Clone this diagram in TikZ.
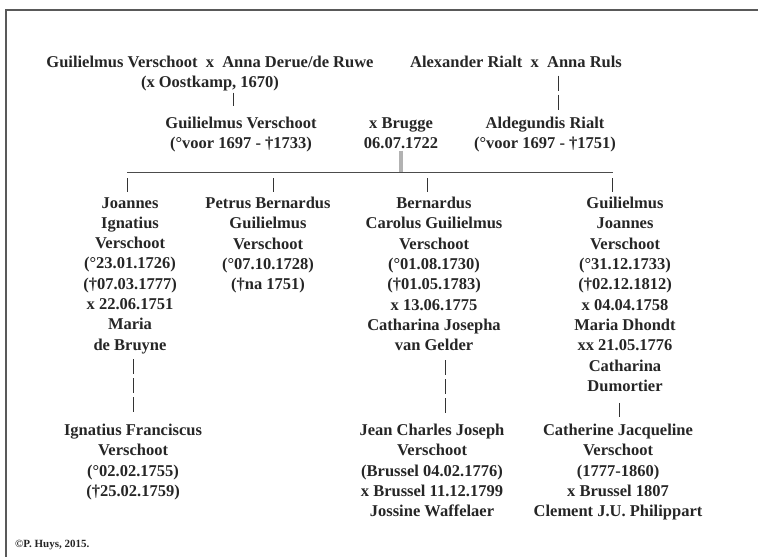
\documentclass[tikz,border=0pt]{standalone}
\usepackage{fontspec}
\setmainfont{Liberation Serif}
\begin{document}
\begin{tikzpicture}[x=1pt,y=-1pt]
\tikzset{
  person/.style={align=center, inner sep=0pt, anchor=north, text=black!85,
    font=\bfseries\fontsize{16.5}{20.3}\selectfont},
  bar/.style={line width=1pt, draw=black!80},
  dbar/.style={bar, dash pattern=on 15pt off 4pt},
  frame/.style={line width=1.2pt, draw=black!65},
  hline/.style={line width=1.5pt, draw=black!70},
  tick/.style={line width=4pt, draw=black!30}
}
\useasboundingbox (0,0) rectangle (758,557);
\draw[frame] (6,557) -- (6,10) -- (758,10);

% generation 1
\node[person] (tl) at (210,56) {Guilielmus Verschoot\ \ x\ \ Anna Derue/de Ruwe\\(x Oostkamp, 1670)};
\node[person] (tr) at (516,56) {Alexander Rialt\ \ x\ \ Anna Ruls};

% generation 2
\node[person] (gv) at (241,117) {Guilielmus Verschoot\\(°voor 1697 - †1733)};
\node[person] (mb) at (401,117) {x Brugge\\06.07.1722};
\node[person] (ar) at (545,117) {Aldegundis Rialt\\(°voor 1697 - †1751)};

\coordinate (xa) at (233,0);
\coordinate (xb) at (558,0);
\draw[bar, shorten <=1pt, shorten >=11pt] (tl.south -| xa) -- (gv.north -| xa);
\draw[dbar, shorten <=7.5pt, shorten >=5pt] (tr.south -| xb) -- (ar.north -| xb);

% family line
\coordinate (hl) at (127,172.5);
\coordinate (hr) at (613,172.5);
\coordinate (tk) at (mb.south);
\draw[tick, shorten <=2pt] (tk) -- (tk |- hl);
\draw[hline] (hl) -- (hr);

% generation 3
\node[person] (c1) at (130,197) {Joannes\\Ignatius\\Verschoot\\(°23.01.1726)\\(†07.03.1777)\\x 22.06.1751\\Maria\\de Bruyne};
\node[person] (c2) at (268,197) {Petrus Bernardus\\Guilielmus\\Verschoot\\(°07.10.1728)\\(†na 1751)};
\node[person] (c3) at (434,197) {Bernardus\\Carolus Guilielmus\\Verschoot\\(°01.08.1730)\\(†01.05.1783)\\x 13.06.1775\\Catharina Josepha\\van Gelder};
\node[person] (c4) at (625,197) {Guilielmus\\Joannes\\Verschoot\\(°31.12.1733)\\(†02.12.1812)\\x 04.04.1758\\Maria Dhondt\\xx 21.05.1776\\Catharina\\Dumortier};

\coordinate (b1) at (127,172.5);
\coordinate (b2) at (273,172.5);
\coordinate (b3) at (427,172.5);
\coordinate (b4) at (612,172.5);
\draw[bar, shorten <=5.5pt, shorten >=5pt] (b1) -- (b1 |- c1.north);
\draw[bar, shorten <=5.5pt, shorten >=5pt] (b2) -- (b2 |- c2.north);
\draw[bar, shorten <=5.5pt, shorten >=5pt] (b3) -- (b3 |- c3.north);
\draw[bar, shorten <=5.5pt, shorten >=5pt] (b4) -- (b4 |- c4.north);

% generation 4
\node[person] (d1) at (133,424) {Ignatius Franciscus\\Verschoot\\(°02.02.1755)\\(†25.02.1759)};
\node[person] (d3) at (432,424) {Jean Charles Joseph\\Verschoot\\(Brussel 04.02.1776)\\x Brussel 11.12.1799\\Jossine Waffelaer};
\node[person] (d4) at (618,424) {Catherine Jacqueline\\Verschoot\\(1777-1860)\\x Brussel 1807\\Clement J.U. Philippart};

\coordinate (x1) at (133,0);
\coordinate (x3) at (445,0);
\coordinate (x4) at (619,0);
\draw[dbar, shorten <=5.5pt, shorten >=9pt] (c1.south -| x1) -- (d1.north -| x1);
\draw[dbar, shorten <=9pt, shorten >=10pt] (c3.south -| x3) -- (d3.north -| x3);
\draw[bar, shorten <=11pt, shorten >=7pt] (c4.south -| x4) -- (d4.north -| x4);

% footer
\node[anchor=west, inner sep=0pt, text=black!85, font=\bfseries\fontsize{11}{13}\selectfont] (cr) at (15,545) {©P. Huys, 2015.};
\end{tikzpicture}
\end{document}
